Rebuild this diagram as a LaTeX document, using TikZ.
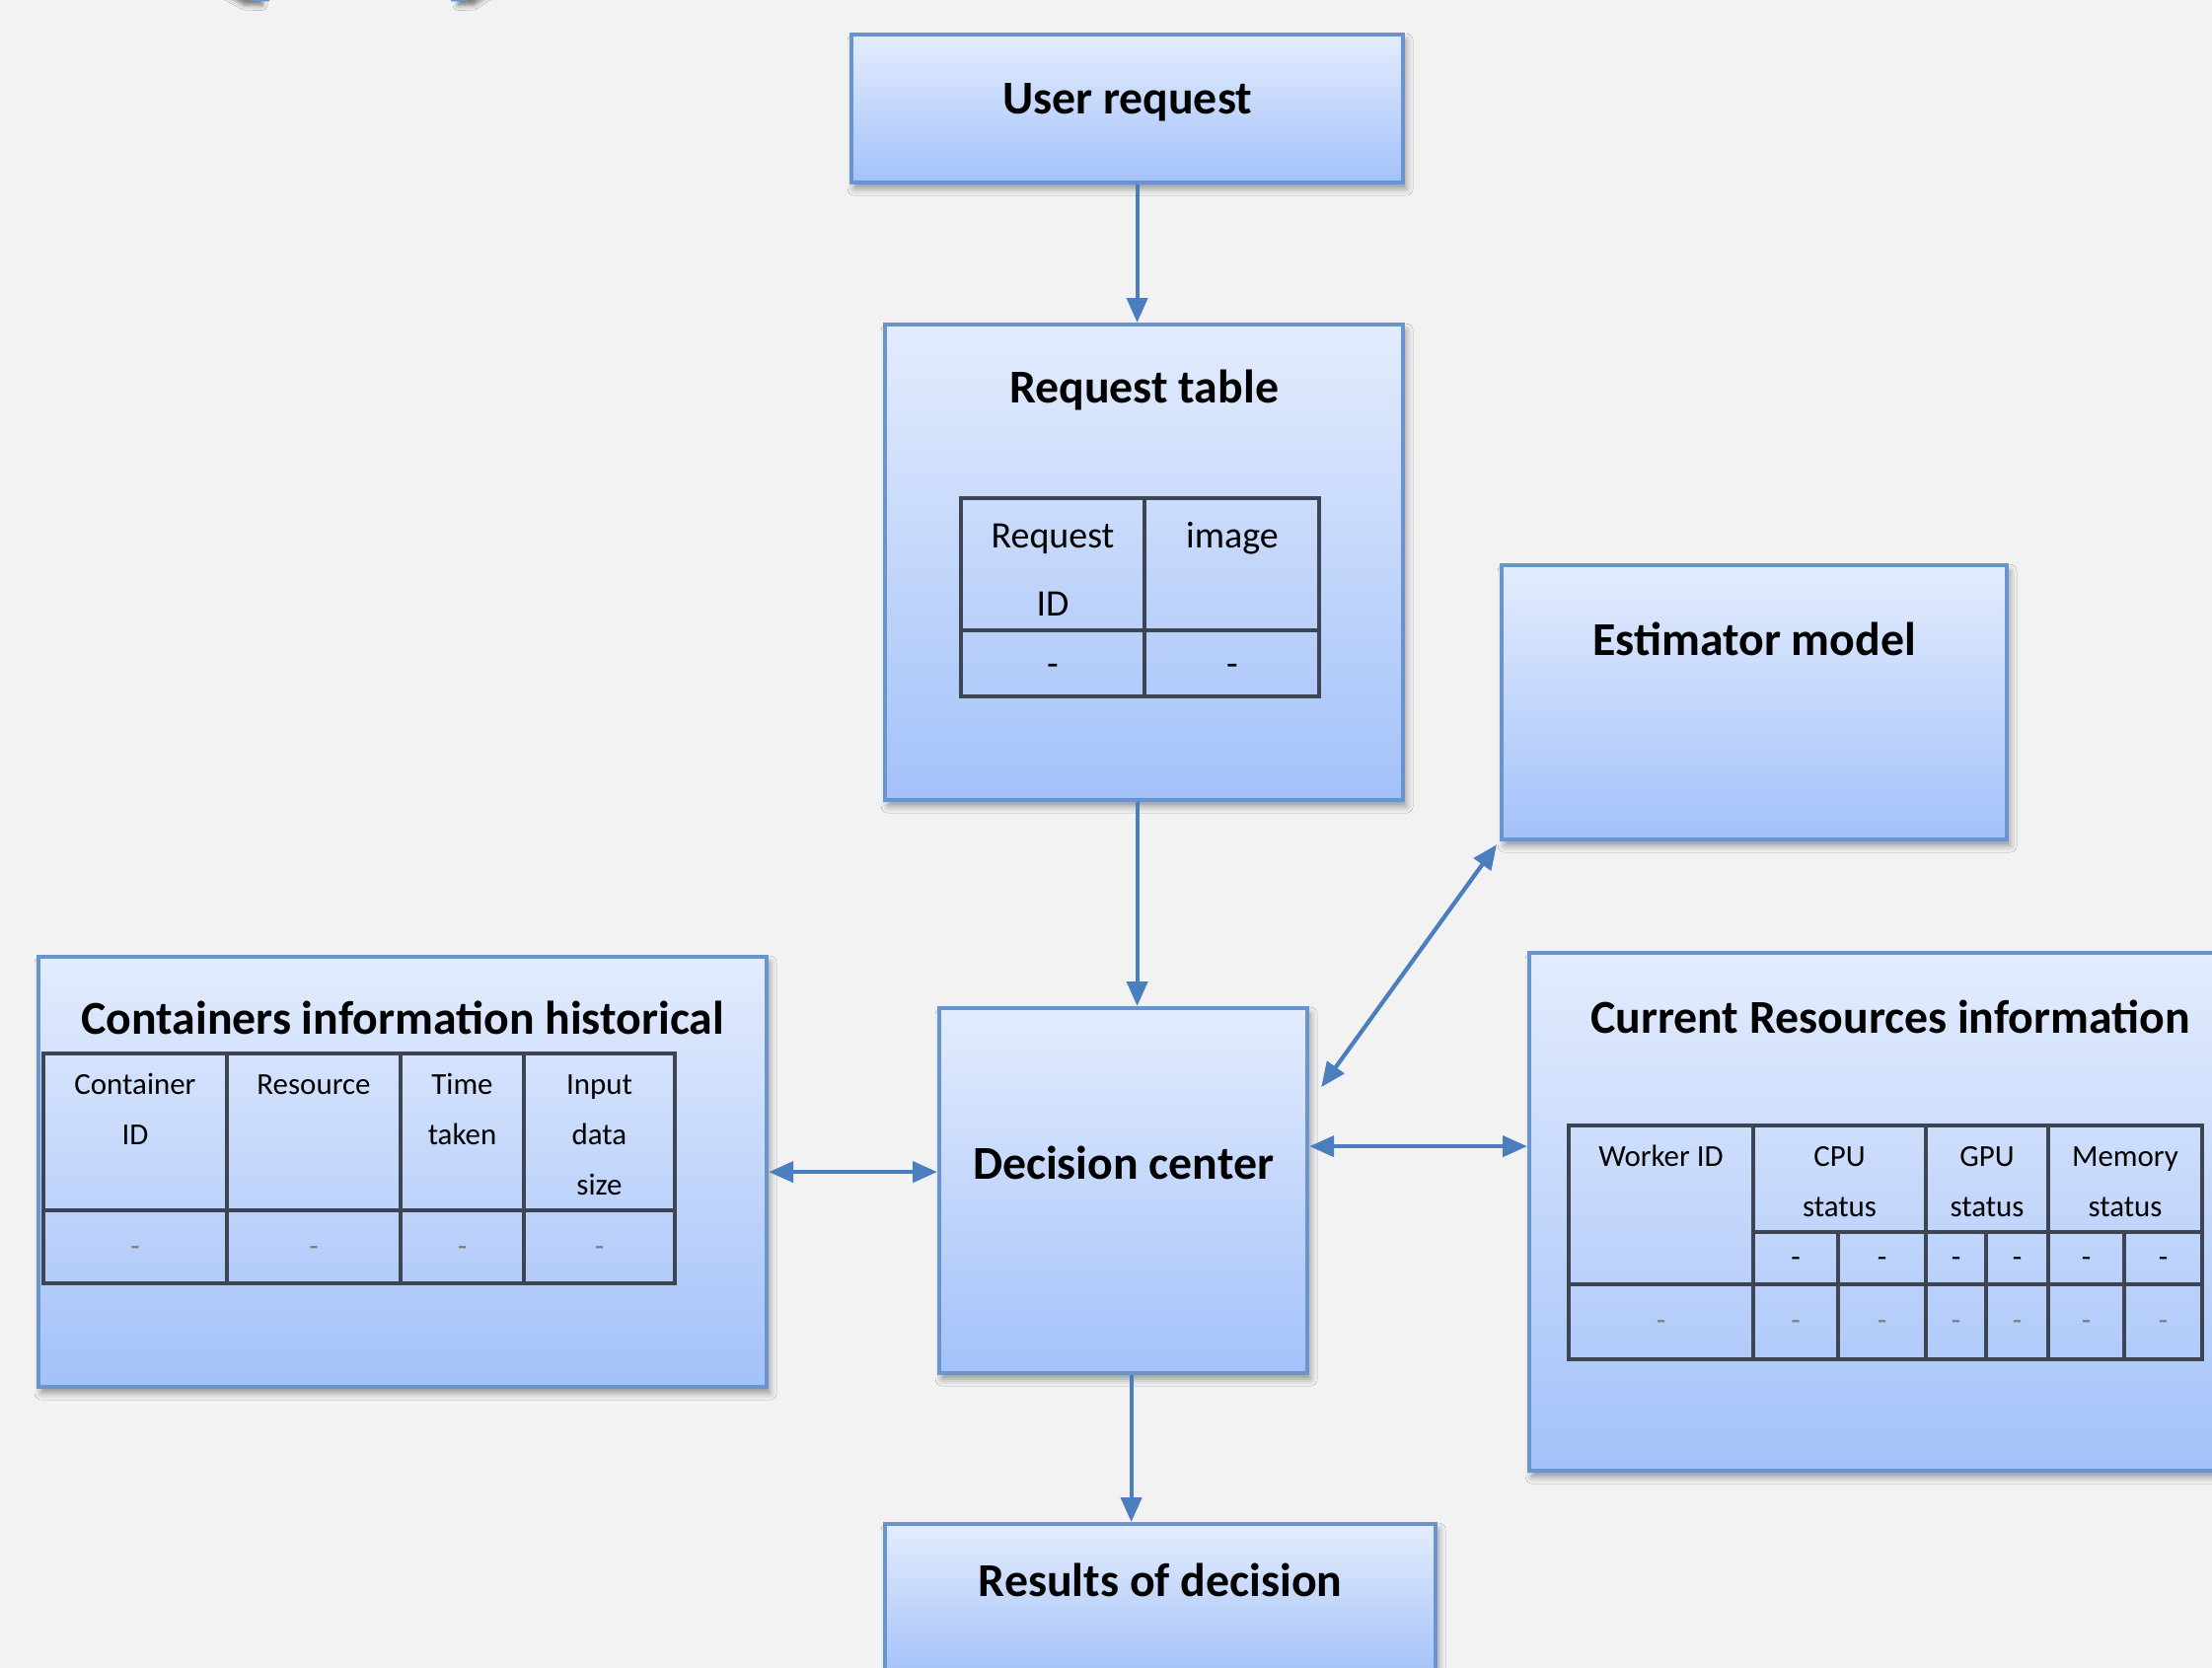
\documentclass[tikz,border=0pt]{standalone}
\usepackage{fontspec}
\setmainfont{Carlito}
\usetikzlibrary{positioning,arrows.meta,shadows.blur}

\definecolor{paper}{HTML}{F2F2F2}
\definecolor{boxtop}{HTML}{E3ECFD}
\definecolor{boxbot}{HTML}{A3C1F9}
\definecolor{boxline}{HTML}{6A94CD}
\definecolor{linkblue}{HTML}{4A7EBF}
\definecolor{gridline}{HTML}{3D4452}
\definecolor{faint}{HTML}{7F7F7F}

% stacked cell text, hanging from the baseline of its first line
\newcommand{\stackcell}[1]{\begin{tabular}[t]{@{}c@{}}#1\end{tabular}}

\begin{document}
\begin{tikzpicture}[
    block/.style={draw=boxline, line width=1.2pt, top color=boxtop, bottom color=boxbot,
      anchor=north west, inner sep=0pt,
      blur shadow={shadow xshift=0.03cm, shadow yshift=-0.06cm, shadow blur radius=0.07cm, shadow opacity=40}},
    title/.style={font=\fontsize{13.6}{16}\selectfont\bfseries, anchor=base, inner sep=0pt},
    cell/.style={font=\fontsize{8.8}{14.6}\selectfont, anchor=base, inner sep=0pt},
    bigcell/.style={cell, font=\fontsize{10.8}{19.8}\selectfont},
    grid/.style={draw=gridline, line width=0.9pt},
    link/.style={draw=linkblue, line width=1.2pt, -{Triangle[length=0.25cm,width=0.21cm]}},
    both/.style={link, {Triangle[length=0.25cm,width=0.21cm]}-{Triangle[length=0.25cm,width=0.21cm]}},
  ]
  \fill[paper] (0,0) rectangle (22.42,-16.91);
  \useasboundingbox (0,0) rectangle (22.42,-16.91);
  \clip (0,0) rectangle (22.42,-16.91);

  % bits of shapes running out over the top edge
  \path[fill=boxline, blur shadow={shadow xshift=-0.07cm, shadow yshift=-0.04cm, shadow blur radius=0.05cm, shadow opacity=50}]
    (2.15,0.2) -- (2.73,0.2) -- (2.73,-0.015) -- (2.55,-0.01) -- cycle;
  \path[fill=boxline, blur shadow={shadow xshift=0.07cm, shadow yshift=-0.04cm, shadow blur radius=0.05cm, shadow opacity=50}]
    (4.57,0.2) -- (5.05,0.2) -- (4.73,-0.01) -- (4.57,-0.015) -- cycle;

  % Boxes
  \node[block, minimum width=5.59cm, minimum height=1.50cm] (user) at (8.61,-0.33) {};
  \node[block, minimum width=5.25cm, minimum height=4.82cm] (reqtab) at (8.95,-3.27) {};
  \node[block, minimum width=5.12cm, minimum height=2.78cm] (estim) at (15.20,-5.71) {};
  \node[block, minimum width=3.73cm, minimum height=3.70cm] (decide) at (9.50,-10.20) {};
  \node[block, minimum width=7.38cm, minimum height=4.36cm] (contain) at (0.37,-9.68) {};
  \node[block, minimum width=7.32cm, minimum height=5.25cm] (current) at (15.48,-9.64) {};
  \node[block, minimum width=5.58cm, minimum height=1.56cm] (result) at (8.95,-15.43) {};

  % Box titles
  \node[title] (usert) at ([yshift=-0.82cm]user.north) {User request};
  \node[title] (reqtabt) at ([yshift=-0.81cm]reqtab.north) {Request table};
  \node[title] (estimt) at ([yshift=-0.93cm]estim.north) {Estimator model};
  \node[title] (decidet) at ([yshift=0.12cm]decide.center) {Decision center};
  \node[title] (containt) at ([yshift=-0.80cm]contain.north) {Containers information historical};
  \node[title] (currentt) at ([yshift=-0.83cm]current.north) {Current Resources information};
  \node[title] (resultt) at ([yshift=-0.75cm]result.north) {Results of decision};

  % Request table
  \draw[grid] (9.74,-5.05) rectangle (13.37,-7.06);
  \draw[grid, line width=1.3pt] (9.74,-6.39) -- (13.37,-6.39);
  \draw[grid] (11.60,-5.05) -- (11.60,-7.06);
  \node[bigcell] (rqh1) at (10.67,-5.55) {\stackcell{Request\\ID}};
  \node[bigcell] (rqh2) at (12.49,-5.55) {image};
  \foreach \x [count=\i] in {10.67,12.49}
    \node[bigcell, anchor=center] (rqd\i) at (\x,-6.79) {-};

  % Containers table
  \draw[grid] (0.44,-10.68) rectangle (6.84,-13.01);
  \draw[grid, line width=1.3pt] (0.44,-12.27) -- (6.84,-12.27);
  \foreach \x in {2.30,4.06,5.31}
    \draw[grid] (\x,-10.68) -- (\x,-13.01);
  \foreach \x/\txt [count=\i] in {1.37/{Container\\ID}, 3.18/Resource, 4.685/{Time\\taken}, 6.075/{Input\\data\\size}} {
    \node[cell] (ch\i) at (\x,-11.09) {\stackcell{\txt}};
    \node[cell, anchor=center, text=faint] (cd\i) at (\x,-12.69) {-};
  }

  % Current resources table
  \draw[grid] (15.90,-11.41) rectangle (22.32,-13.78);
  \draw[grid, line width=1.3pt] (15.90,-13.02) -- (22.32,-13.02);
  \draw[grid] (17.77,-12.49) -- (22.32,-12.49);
  \foreach \x in {17.77,19.52,20.76}
    \draw[grid] (\x,-11.41) -- (\x,-13.78);
  \foreach \x in {18.63,20.13,21.53}
    \draw[grid] (\x,-12.49) -- (\x,-13.78);
  \foreach \x/\txt [count=\i] in {16.835/Worker ID, 18.645/{CPU\\status}, 20.14/{GPU\\status}, 21.54/{Memory\\status}}
    \node[cell] (wh\i) at (\x,-11.82) {\stackcell{\txt}};
  \foreach \x [count=\i] in {18.20,19.075,19.825,20.445,21.145,21.925} {
    \node[cell, anchor=center] (ws\i) at (\x,-12.80) {-};
    \node[cell, anchor=center, text=faint] (wd\i) at (\x,-13.44) {-};
  }
  \node[cell, anchor=center, text=faint] (wd0) at (16.835,-13.44) {-};

  % Connectors
  \draw[link] ([xshift=0.10cm]user.south) -- ([xshift=0.10cm]user.south |- reqtab.north);
  \draw[link] ([xshift=-0.07cm]reqtab.south) -- ([xshift=-0.07cm]reqtab.south |- decide.north);
  \draw[link] ([xshift=0.08cm]decide.south) -- ([xshift=0.08cm]decide.south |- result.north);
  \draw[both] (contain.east) -- (contain.east -| decide.west);
  \draw[both] ([yshift=0.45cm]decide.east) -- ([yshift=0.45cm]decide.east -| current.west);
  \draw[both] ([shift={(0.12cm,1.05cm)}]decide.east) -- ([shift={(-0.03cm,-0.03cm)}]estim.south west);
\end{tikzpicture}
\end{document}
